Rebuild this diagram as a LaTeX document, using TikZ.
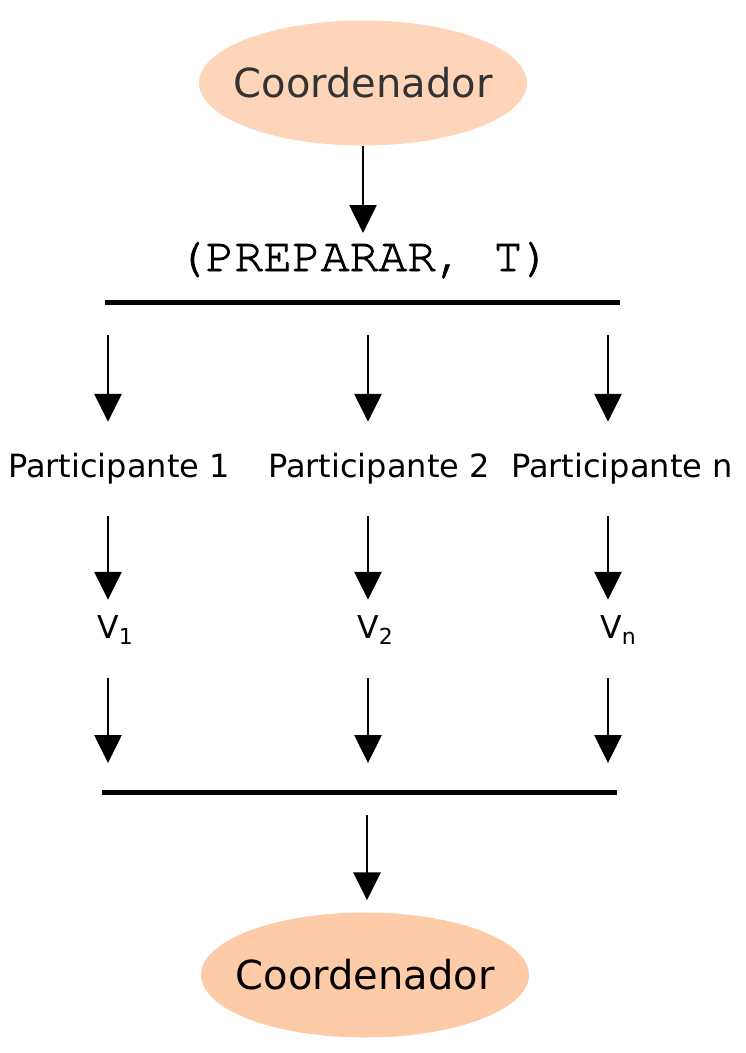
\documentclass[tikz,border=0pt]{standalone}
\usepackage{fontspec}
\setmainfont{DejaVu Sans}
\newfontfamily\monofont{texgyrecursor-regular.otf}[FakeBold=1.6]
\usetikzlibrary{shapes, arrows.meta}
\definecolor{topfill}{HTML}{FFD5BA}
\definecolor{botfill}{HTML}{FECBA8}
\definecolor{toptext}{HTML}{333333}
\tikzstyle{coord} = [ellipse, minimum width=328pt, minimum height=125pt, inner xsep=-20pt, inner ysep=0pt, font=\fontsize{40}{48}\selectfont]
\tikzstyle{msg} = [inner sep=0pt, minimum height=54pt, font=\monofont\fontsize{48}{56}\selectfont]
\tikzstyle{part} = [inner sep=0pt, minimum height=94pt, font=\fontsize{32}{38}\selectfont]
\tikzstyle{vote} = [inner sep=0pt, minimum height=60pt, font=\fontsize{31.5}{38}\selectfont]
\tikzstyle{arrow} = [line width=2.7pt, -{Triangle[length=28pt, width=27pt]}]
\tikzstyle{bar} = [line width=5pt]
\newcommand{\vsub}[1]{V\raisebox{-6pt}{\fontsize{22}{26}\selectfont #1}}

\begin{document}
\begin{tikzpicture}[x=1pt, y=-1pt]
\useasboundingbox (0,0) rectangle (745,1053);
\node(top) [coord, fill=topfill, text=toptext] at (363,83) {Coordenador};
\node(prep) [msg, anchor=north] at (364,233) {(PREPARAR, T)};
\coordinate (upL) at (105,302.5);
\coordinate (upR) at (620,302.5);
\draw [bar] (upL) -- (upR);
\draw [arrow] (top.south) -- (top.south |- prep.north);
% participantes
\foreach \name/\x/\tx/\lab/\sub in {p1/108/119/1/1, p2/368/379/2/2, pn/608/622/n/n} {
  \node(\name) [part] at (\tx,469) {Participante \lab};
  \node(v\name) [vote] at (\tx-4,630) {\vsub{\sub}};
  \coordinate (s\name) at (\x,335);
  \coordinate (d\name) at (\x,763);
  \draw [arrow] (s\name) -- (s\name |- \name.north);
  \draw [arrow] (s\name |- \name.south) -- (s\name |- v\name.north);
  \draw [arrow] ([yshift=-18pt]s\name |- v\name.south) -- (d\name);
}
\coordinate (lowL) at (102,792.5);
\coordinate (lowR) at (617,792.5);
\draw [bar] (lowL) -- (lowR);
\node(bot) [coord, fill=botfill] at (365,975) {Coordenador};
\coordinate (end) at (367,815);
\draw [arrow, shorten >=12pt] (end) -- (end |- bot.north);
\end{tikzpicture}
\end{document}
